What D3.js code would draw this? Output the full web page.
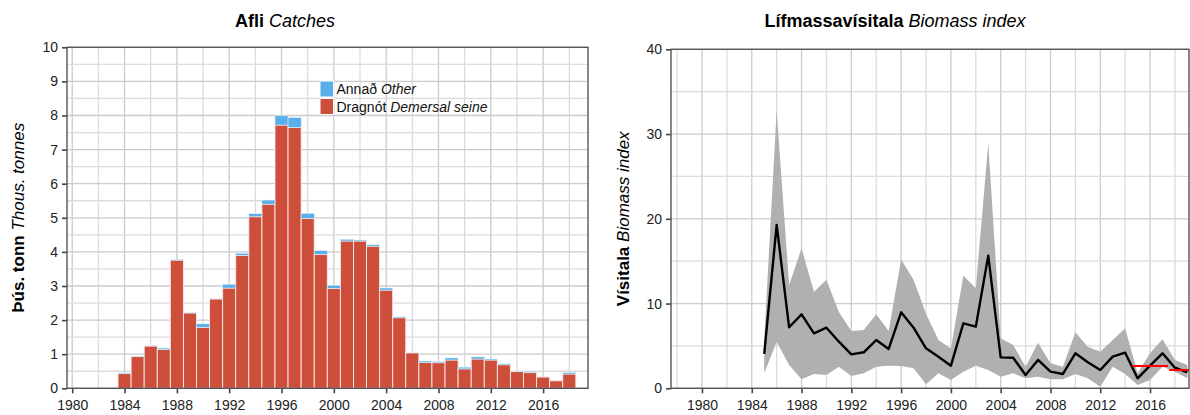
<!DOCTYPE html>
<html>
<head>
<meta charset="utf-8">
<script src="https://cdn.jsdelivr.net/npm/d3@7"></script>
<style>
  body { margin: 0; background: #fff; }
  svg { font-family: "Liberation Sans", Arial, sans-serif; }
</style>
</head>
<body>
<svg id="chart" width="1190" height="415"></svg>
<script>
// catches, thousand tonnes
const catchYears = [1984, 1985, 1986, 1987, 1988, 1989, 1990, 1991, 1992, 1993, 1994, 1995,
  1996, 1997, 1998, 1999, 2000, 2001, 2002, 2003, 2004, 2005, 2006, 2007, 2008, 2009, 2010,
  2011, 2012, 2013, 2014, 2015, 2016, 2017, 2018];
const seine = [0.43, 0.93, 1.24, 1.14, 3.76, 2.21, 1.79, 2.62, 2.94, 3.90, 5.03, 5.40,
  7.72, 7.65, 4.98, 3.93, 2.93, 4.32, 4.32, 4.17, 2.88, 2.07, 1.04, 0.76, 0.75, 0.83, 0.57,
  0.86, 0.83, 0.69, 0.49, 0.46, 0.33, 0.22, 0.42];
const other = [0.02, 0.01, 0.01, 0.04, 0.02, 0.02, 0.10, 0.01, 0.11, 0.06, 0.09, 0.12,
  0.27, 0.29, 0.15, 0.11, 0.09, 0.05, 0.03, 0.04, 0.06, 0.03, 0.01, 0.04, 0.03, 0.06, 0.05,
  0.06, 0.03, 0.03, 0.01, 0.03, 0.00, 0.00, 0.04];

// survey biomass index
const indexYears = [1985, 1986, 1987, 1988, 1989, 1990, 1991, 1992, 1993, 1994, 1995, 1996,
  1997, 1998, 1999, 2000, 2001, 2002, 2003, 2004, 2005, 2006, 2007, 2008, 2009, 2010, 2011,
  2012, 2013, 2014, 2015, 2016, 2017, 2018, 2019];
const index = [4.05, 19.27, 7.2, 8.73, 6.49, 7.15, 5.5, 4.01, 4.25, 5.7, 4.64, 8.97,
  7.15, 4.72, 3.73, 2.67, 7.67, 7.27, 15.65, 3.65, 3.6, 1.57, 3.34, 1.96, 1.69, 4.13, 3.07,
  2.16, 3.73, 4.2, 1.18, 2.67, 4.13, 2.43, 1.89];
const upper = [5.7, 32.8, 12.2, 16.5, 11.4, 12.8, 9.0, 6.76, 6.88, 8.73, 6.76, 15.2,
  12.8, 8.8, 5.7, 4.7, 13.3, 11.8, 28.9, 5.9, 5.1, 2.55, 5.38, 2.95, 2.55, 6.6, 4.9,
  4.3, 5.7, 7.08, 1.77, 4.13, 5.78, 3.34, 2.75];
const lower = [1.77, 5.5, 2.75, 1.06, 1.69, 1.57, 2.55, 1.45, 1.77, 2.55, 2.67, 2.63,
  2.36, 0.47, 1.77, 0.98, 1.96, 2.67, 2.16, 1.37, 1.77, 1.18, 1.37, 1.06, 1.06, 1.69, 1.18,
  0.19, 2.55, 1.69, 0.39, 0.98, 2.55, 1.96, 1.18];

// red reference means
const refStart = [2014.5, 2017.5];
const refEnd = [2017.5, 2019.5];
const refValue = [2.63, 2.16];

const xTicks = [1980, 1984, 1988, 1992, 1996, 2000, 2004, 2008, 2012, 2016];
const catchTicks = [0, 1, 2, 3, 4, 5, 6, 7, 8, 9, 10];
const indexTicks = [0, 10, 20, 30, 40];

const red = "#cd4f3b", blue = "#5aaee9";
const svg = d3.select("#chart");

function panel(o) {
  const g = svg.append("g");
  const x = d3.scaleLinear().domain(o.xDomain).range([o.left, o.right]);
  const y = d3.scaleLinear().domain(o.yDomain).range([o.bottom, o.top]);

  // grid
  g.selectAll(".vg").data(o.vGrid).join("line")
    .attr("x1", d => x(d)).attr("x2", d => x(d))
    .attr("y1", o.top).attr("y2", o.bottom)
    .attr("stroke", d => d % 4 === 0 ? "#cbcbcb" : "#dcdcdc").attr("stroke-width", 1.3);
  g.selectAll(".hg").data(o.hGrid).join("line")
    .attr("x1", o.left).attr("x2", o.right)
    .attr("y1", d => y(d)).attr("y2", d => y(d))
    .attr("stroke", (d, i) => i % 2 === 0 ? "#cbcbcb" : "#dcdcdc").attr("stroke-width", 1.3);

  const clipId = "clip" + o.id;
  svg.append("clipPath").attr("id", clipId).append("rect")
    .attr("x", o.left).attr("y", o.top)
    .attr("width", o.right - o.left).attr("height", o.bottom - o.top);
  const plot = g.append("g").attr("clip-path", `url(#${clipId})`);

  // axes
  const xAxis = d3.axisBottom(x).tickValues(xTicks).tickFormat(d3.format("d"))
    .tickSize(5).tickPadding(4);
  const yAxis = d3.axisLeft(y).tickValues(o.yTicks).tickSize(5).tickPadding(4);
  const ax = g.append("g").attr("transform", `translate(0,${o.bottom})`).call(xAxis);
  const ay = g.append("g").attr("transform", `translate(${o.left},0)`).call(yAxis);
  [ax, ay].forEach(a => {
    a.select(".domain").remove();
    a.selectAll("line").attr("stroke", "#444").attr("stroke-width", 1.6);
    a.selectAll("text").attr("fill", "#222").style("font-size", "14px");
  });
  ax.selectAll("text").attr("dy", "0.9em");

  // border
  g.append("rect")
    .attr("x", o.left).attr("y", o.top)
    .attr("width", o.right - o.left).attr("height", o.bottom - o.top)
    .attr("fill", "none").attr("stroke", "#555").attr("stroke-width", 1.4);

  // title
  const t = g.append("text").attr("x", o.titleX).attr("y", 27)
    .attr("text-anchor", "middle").style("font-size", "18px").attr("fill", "#000");
  t.append("tspan").attr("font-weight", "bold").text(o.title[0]);
  t.append("tspan").attr("font-style", "italic").text(" " + o.title[1]);

  // y label
  const yl = g.append("text")
    .attr("transform", `translate(${o.labelX},${(o.top + o.bottom) / 2}) rotate(-90)`)
    .attr("text-anchor", "middle").style("font-size", "17px").attr("fill", "#000");
  yl.append("tspan").attr("font-weight", "bold").text(o.ylab[0]);
  yl.append("tspan").attr("font-style", "italic").text(" " + o.ylab[1]);

  return { x, y, plot, g };
}

// ---- left: catches ----
const L = panel({
  id: "L", left: 67, right: 588, top: 47.3, bottom: 388.3,
  xDomain: [1979.6, 2019.43], yDomain: [0, 10],
  vGrid: d3.range(1980, 2019, 2), hGrid: d3.range(0, 10.01, 0.5),
  yTicks: catchTicks, titleX: 285, labelX: 24,
  title: ["Afli", "Catches"], ylab: ["Þús. tonn", "Thous. tonnes"]
});

const bw = L.x(1) - L.x(0);
L.plot.selectAll(".seine").data(catchYears).join("rect")
  .attr("x", d => L.x(d) - bw / 2).attr("width", bw)
  .attr("y", (d, i) => L.y(seine[i]))
  .attr("height", (d, i) => L.y(0) - L.y(seine[i]))
  .attr("fill", red).attr("stroke", "#fbeae7").attr("stroke-width", 0.9);
L.plot.selectAll(".other").data(catchYears).join("rect")
  .attr("x", d => L.x(d) - bw / 2).attr("width", bw)
  .attr("y", (d, i) => L.y(seine[i] + other[i]))
  .attr("height", (d, i) => L.y(seine[i]) - L.y(seine[i] + other[i]))
  .attr("fill", blue).attr("stroke", "#eaf4fc").attr("stroke-width", 0.5);

// legend
const legend = [
  { fill: blue, a: "Annað", b: "Other" },
  { fill: red, a: "Dragnót", b: "Demersal seine" }
];
const lg = L.g.append("g").attr("transform", "translate(320,81)");
legend.forEach((d, i) => {
  lg.append("rect").attr("x", 0).attr("y", i * 17.5).attr("width", 13.5).attr("height", 16)
    .attr("fill", d.fill).attr("stroke", "#fff").attr("stroke-width", 1);
  const tx = lg.append("text").attr("x", 16.5).attr("y", i * 17.5 + 13)
    .style("font-size", "14px").attr("fill", "#111");
  tx.append("tspan").text(d.a + " ");
  tx.append("tspan").attr("font-style", "italic").text(d.b);
});

// ---- right: biomass index ----
const R = panel({
  id: "R", left: 671, right: 1189, top: 49.3, bottom: 388.3,
  xDomain: [1977.51, 2019.13], yDomain: [0, 40],
  vGrid: d3.range(1978, 2019, 2), hGrid: d3.range(0, 40.1, 5),
  yTicks: indexTicks, titleX: 895, labelX: 629,
  title: ["Lífmassavísitala", "Biomass index"], ylab: ["Vísitala", "Biomass index"]
});

R.plot.append("path")
  .datum(indexYears)
  .attr("d", d3.area()
    .x(d => R.x(d))
    .y0((d, i) => R.y(lower[i]))
    .y1((d, i) => R.y(upper[i])))
  .attr("fill", "#b0b0b0");

R.plot.append("path")
  .datum(indexYears)
  .attr("d", d3.line().x(d => R.x(d)).y((d, i) => R.y(index[i])))
  .attr("fill", "none").attr("stroke", "#000").attr("stroke-width", 2.4)
  .attr("stroke-linejoin", "round");

R.plot.selectAll(".ref").data(refValue).join("line")
  .attr("x1", (d, i) => R.x(refStart[i]) + 0.5)
  .attr("x2", (d, i) => R.x(refEnd[i]) - 0.5)
  .attr("y1", d => R.y(d)).attr("y2", d => R.y(d))
  .attr("stroke", "#ff0000").attr("stroke-width", 2.2);
</script>
</body>
</html>
